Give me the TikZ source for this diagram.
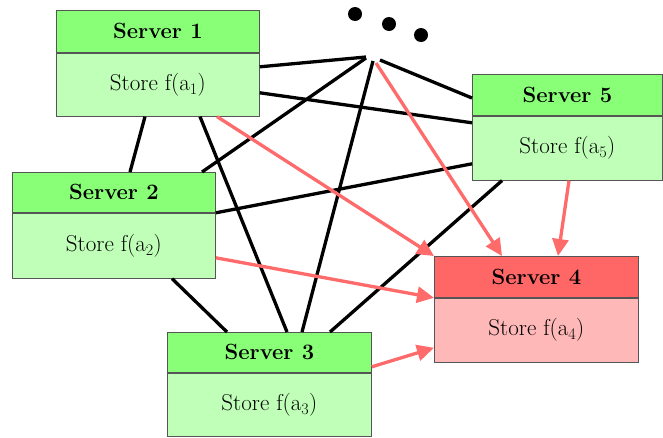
\documentclass[tikz,border=0pt]{standalone}
\usepackage{fontspec}
\usetikzlibrary{arrows.meta}
\definecolor{hdrgreen}{HTML}{88FF77}
\definecolor{bodygreen}{HTML}{C0FFB8}
\definecolor{hdrred}{HTML}{FF6666}
\definecolor{bodyred}{HTML}{FFB8B8}
\definecolor{arrowred}{HTML}{FF6A6A}
\definecolor{edgegray}{HTML}{555555}
\begin{document}
\begin{tikzpicture}[x=1pt,y=-1pt,
  box/.style={draw=edgegray, line width=0.8pt, anchor=north west, inner sep=0pt},
  hdr/.style={box, fill=hdrgreen, font=\fontsize{22}{26}\selectfont\bfseries},
  bod/.style={box, fill=bodygreen, font=\fontsize{23}{27}\selectfont},
  link/.style={line width=3.3pt, black},
  feed/.style={line width=3.3pt, arrowred, -{Triangle[length=17pt,width=16pt]}},
  dot/.style={circle, fill=black, minimum size=14pt, inner sep=0pt}]
\useasboundingbox (0,0) rectangle (663,437);
% servers
\node[hdr, minimum width=203pt, minimum height=42pt] (s1h) at (56,10) {Server 1};
\node[bod, minimum width=203pt, minimum height=63pt] (s1b) at (s1h.south west) {Store f(a\textsubscript{1})};
\node[hdr, minimum width=203pt, minimum height=40pt] (s2h) at (12,172) {Server 2};
\node[bod, minimum width=203pt, minimum height=65pt] (s2b) at (s2h.south west) {Store f(a\textsubscript{2})};
\node[hdr, minimum width=204pt, minimum height=40pt] (s3h) at (167,332) {Server 3};
\node[bod, minimum width=204pt, minimum height=63pt] (s3b) at (s3h.south west) {Store f(a\textsubscript{3})};
\node[hdr, fill=hdrred, minimum width=204pt, minimum height=41pt] (s4h) at (434,256) {Server 4};
\node[bod, fill=bodyred, minimum width=204pt, minimum height=64pt] (s4b) at (s4h.south west) {Store f(a\textsubscript{4})};
\node[hdr, minimum width=190pt, minimum height=41pt] (s5h) at (472,74) {Server 5};
\node[bod, minimum width=190pt, minimum height=64pt] (s5b) at (s5h.south west) {Store f(a\textsubscript{5})};
% ellipsis dots and hub
\node[dot] (d1) at (355,14) {};
\node[dot] (d2) at (389,24) {};
\node[dot] (d3) at (421,35) {};
\coordinate (hub) at (372,58);
% black links
\draw[link] ([yshift=-14pt]s1b.north east) -- ([xshift=-6pt,yshift=1pt]hub);
\draw[link] ([yshift=-40pt]s1b.north east) -- ([yshift=-7pt]s5b.north west);
\draw[link] ([xshift=89pt]s1b.south west) -- ([xshift=118pt]s2h.north west);
\draw[link] ([xshift=144pt]s1b.south west) -- ([xshift=120pt]s3h.north west);
\draw[link] ([xshift=190pt]s2h.north west) -- ([xshift=-6pt]hub);
\draw[link] (s2h.south east) -- ([yshift=-48pt]s5b.north west);
\draw[link] ([xshift=160pt]s2b.south west) -- ([xshift=60pt]s3h.north west);
\draw[link] ([xshift=135pt]s3h.north west) -- ([xshift=1pt,yshift=-3pt]hub);
\draw[link] ([xshift=163pt]s3h.north west) -- ([xshift=30pt]s5b.south west);
\draw[link] ([yshift=-24pt]s5h.north west) -- ([xshift=8pt,yshift=-2pt]hub);
% red feeds into server 4
\draw[feed] ([xshift=4pt,yshift=-5pt]hub) -- ([xshift=68pt]s4h.north west);
\draw[feed] ([xshift=161pt]s1b.south west) -- (s4h.north west);
\draw[feed] ([yshift=-45pt]s2b.north east) -- (s4h.south west);
\draw[feed] ([yshift=6pt]s3h.south east) -- ([yshift=-50pt]s4b.north west);
\draw[feed] ([xshift=97pt]s5b.south west) -- ([xshift=124pt]s4h.north west);
\end{tikzpicture}
\end{document}
